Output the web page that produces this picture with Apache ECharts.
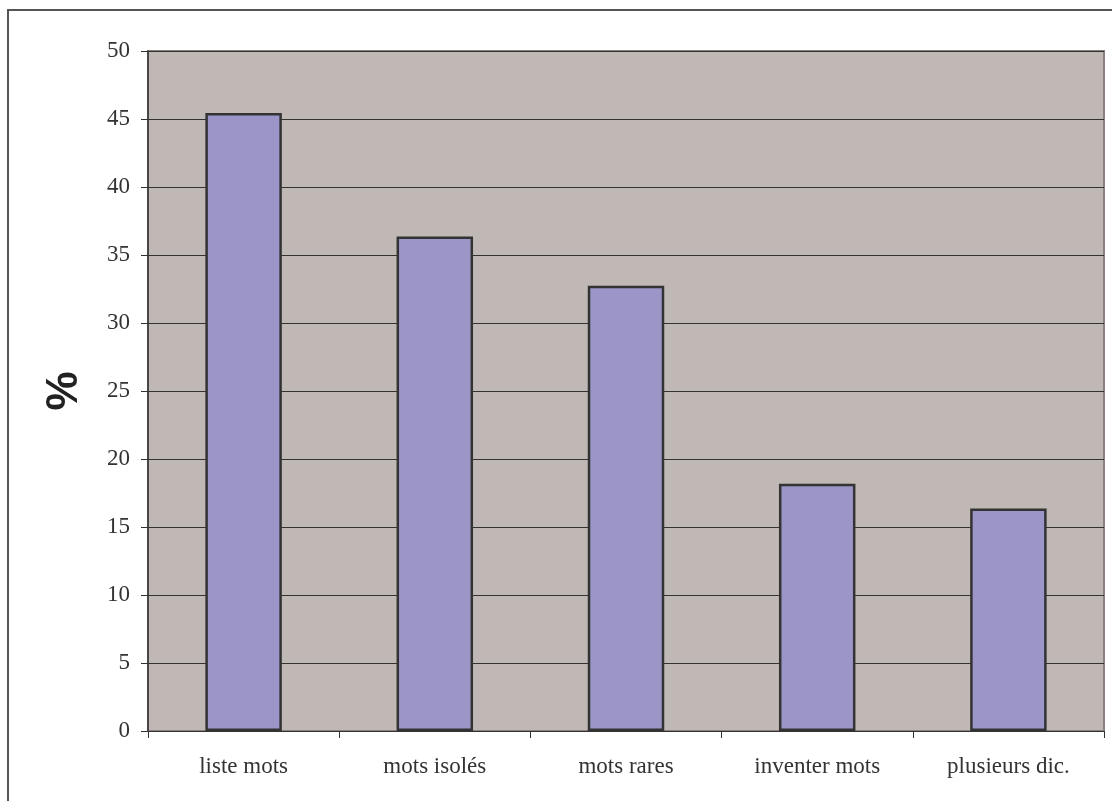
<!DOCTYPE html>
<html>
<head>
<meta charset="utf-8">
<script src="https://cdn.jsdelivr.net/npm/echarts@6/dist/echarts.min.js"></script>
<style>
  html, body { margin: 0; padding: 0; background: #fff; }
  #main { width: 1112px; height: 801px; }
</style>
</head>
<body>
<div id="main"></div>
<script>
var categories = ['liste mots', 'mots isolés', 'mots rares', 'inventer mots', 'plusieurs dic.'];
var values = [45.45, 36.36, 32.73, 18.18, 16.36];
var yTitle = '%';

var myChart = echarts.init(document.getElementById('main'));

var option = {
    animation: false,
    backgroundColor: '#ffffff',
    graphic: [{
        type: 'rect',
        shape: { x: 8, y: 10, width: 1200, height: 900 },
        style: { fill: 'none', stroke: '#555555', lineWidth: 2 }
    }, {
        type: 'text',
        x: 65, y: 391,
        rotation: Math.PI / 2,
        style: {
            text: yTitle,
            font: 'bold 44px "Liberation Sans", Arial, sans-serif',
            fill: '#222222',
            align: 'center',
            verticalAlign: 'middle'
        }
    }],
    grid: {
        left: 148, top: 51, right: 8, bottom: 70,
        show: true,
        backgroundColor: '#c0b8b5',
        borderColor: '#8a8080',
        borderWidth: 2
    },
    xAxis: {
        type: 'category',
        data: categories,
        axisLine: { show: true, lineStyle: { color: '#333333', width: 1 } },
        axisTick: { show: true, alignWithLabel: false, length: 7, lineStyle: { color: '#333333' } },
        axisLabel: {
            margin: 24,
            color: '#333333',
            fontFamily: '"Liberation Serif", "Times New Roman", serif',
            fontSize: 23
        }
    },
    yAxis: {
        type: 'value',
        min: 0, max: 50, interval: 5,
        axisLine: { show: true, lineStyle: { color: '#333333', width: 1.5 } },
        axisTick: { show: true, length: 7, lineStyle: { color: '#333333' } },
        axisLabel: {
            margin: 18,
            color: '#333333',
            fontFamily: '"Liberation Serif", "Times New Roman", serif',
            fontSize: 23
        },
        splitLine: { show: true, lineStyle: { color: '#333333', width: 1 } }
    },
    series: [{
        type: 'bar',
        data: values,
        barWidth: '40%',
        itemStyle: {
            color: '#9c96c8',
            borderColor: '#333333',
            borderWidth: 2.5
        }
    }]
};
myChart.setOption(option);
</script>
</body>
</html>
